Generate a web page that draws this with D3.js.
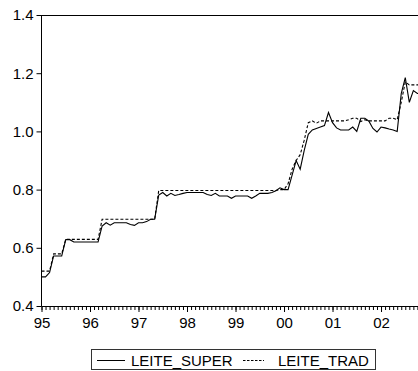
<!DOCTYPE html>
<html>
<head>
<meta charset="utf-8">
<script src="https://cdn.jsdelivr.net/npm/d3@7"></script>
<style>
  body { margin: 0; background: #fff; }
  svg text { font-family: Arial, "Liberation Sans", sans-serif; fill: #000; }
</style>
</head>
<body>
<svg id="chart" width="418" height="371"></svg>
<script>
// monthly observations, 1995:01 .. 2002:11
var yearLabels = ["95", "96", "97", "98", "99", "00", "01", "02"];
var yTicks = [0.4, 0.6, 0.8, 1.0, 1.2, 1.4];

var leiteSuper = [
  0.50, 0.50, 0.515, 0.572, 0.572, 0.572, 0.628, 0.628, 0.62, 0.62, 0.62, 0.62,
  0.62, 0.62, 0.62, 0.675, 0.686, 0.678, 0.686, 0.686, 0.686, 0.686, 0.68, 0.677,
  0.686, 0.686, 0.69, 0.698, 0.698, 0.781, 0.79, 0.778, 0.787, 0.78, 0.783, 0.787,
  0.79, 0.79, 0.79, 0.79, 0.79, 0.783, 0.78, 0.787, 0.778, 0.778, 0.778, 0.77,
  0.778, 0.778, 0.778, 0.778, 0.77, 0.778, 0.787, 0.787, 0.787, 0.79, 0.796, 0.806,
  0.80, 0.80, 0.85, 0.90, 0.87, 0.935, 0.99, 1.005, 1.01, 1.015, 1.02, 1.065,
  1.03, 1.012, 1.005, 1.005, 1.005, 1.015, 1.0, 1.045, 1.045, 1.035, 1.01, 0.998,
  1.015, 1.012, 1.008, 1.005, 1.0, 1.13, 1.185, 1.10, 1.14, 1.13, 1.13
];
var leiteTrad = [
  0.52, 0.52, 0.52, 0.579, 0.579, 0.579, 0.629, 0.629, 0.629, 0.629, 0.629, 0.629,
  0.629, 0.629, 0.629, 0.698, 0.698, 0.698, 0.698, 0.698, 0.698, 0.698, 0.698, 0.698,
  0.698, 0.698, 0.698, 0.698, 0.698, 0.797, 0.797, 0.797, 0.797, 0.797, 0.797, 0.797,
  0.797, 0.797, 0.797, 0.797, 0.797, 0.797, 0.797, 0.797, 0.797, 0.797, 0.797, 0.797,
  0.797, 0.797, 0.797, 0.797, 0.797, 0.797, 0.797, 0.797, 0.797, 0.797, 0.797, 0.80,
  0.80, 0.82, 0.87, 0.90, 0.92, 0.97, 1.03, 1.036, 1.028, 1.036, 1.036, 1.036,
  1.036, 1.036, 1.036, 1.036, 1.04, 1.045, 1.045, 1.034, 1.04, 1.036, 1.036, 1.036,
  1.036, 1.036, 1.045, 1.045, 1.04, 1.10, 1.17, 1.16, 1.16, 1.16, 1.16
];
var seriesNames = ["LEITE_SUPER", "LEITE_TRAD"];

var svg = d3.select("#chart");
var plot = {left: 41.5, top: 15, bottom: 306};
var n = leiteSuper.length;

var x = d3.scaleLinear().domain([0, n - 1]).range([plot.left, plot.left + (n - 1) * 4.042]);
var y = d3.scaleLinear().domain([0.4, 1.4]).range([plot.bottom, plot.top]);
var plotRight = x(n - 1);

// frame: top line
svg.append("line")
  .attr("x1", plot.left).attr("x2", plotRight + 5)
  .attr("y1", plot.top + 0.5).attr("y2", plot.top + 0.5)
  .attr("stroke", "#000");

// y axis
var yAxis = svg.append("g")
  .attr("transform", "translate(" + plot.left + ",0)")
  .call(d3.axisLeft(y).tickValues(yTicks).tickSize(5).tickPadding(3)
    .tickFormat(d3.format(".1f")));
yAxis.select(".domain").attr("d", "M0," + plot.top + "V" + plot.bottom);
yAxis.selectAll("text").style("font-size", "15px");

// x axis: monthly minor ticks, yearly major ticks with labels
var xMinor = svg.append("g")
  .attr("transform", "translate(0," + plot.bottom + ")")
  .call(d3.axisBottom(x).tickValues(d3.range(0, n)).tickSize(4).tickFormat(""));
xMinor.select(".domain").attr("d", "M" + plot.left + ",0.5H" + (plotRight + 5));

var xMajor = svg.append("g")
  .attr("transform", "translate(0," + plot.bottom + ")")
  .call(d3.axisBottom(x).tickValues(yearLabels.map(function(d, i) { return i * 12; }))
    .tickSize(6).tickPadding(5)
    .tickFormat(function(d) { return yearLabels[d / 12]; }));
xMajor.select(".domain").remove();
xMajor.selectAll("text").style("font-size", "15px");

// lines
var line = d3.line().x(function(d, i) { return x(i); }).y(function(d) { return y(d); });

svg.append("path").datum(leiteTrad)
  .attr("d", line).attr("fill", "none")
  .attr("stroke", "#000").attr("stroke-width", 1.1)
  .attr("stroke-dasharray", "3,2");

svg.append("path").datum(leiteSuper)
  .attr("d", line).attr("fill", "none")
  .attr("stroke", "#000").attr("stroke-width", 1.1);

// legend
var legend = svg.append("g");
legend.append("rect")
  .attr("x", 91.5).attr("y", 349.5).attr("width", 284).attr("height", 20)
  .attr("fill", "#fff").attr("stroke", "#333");

legend.append("line")
  .attr("x1", 97).attr("x2", 125).attr("y1", 360.5).attr("y2", 360.5)
  .attr("stroke", "#000");
legend.append("text").attr("x", 131).attr("y", 366)
  .style("font-size", "15px").text(seriesNames[0]);

legend.append("line")
  .attr("x1", 243).attr("x2", 264).attr("y1", 360.5).attr("y2", 360.5)
  .attr("stroke", "#000").attr("stroke-dasharray", "2.5,1.5");
legend.append("text").attr("x", 278).attr("y", 366)
  .style("font-size", "15px").text(seriesNames[1]);
</script>
</body>
</html>
